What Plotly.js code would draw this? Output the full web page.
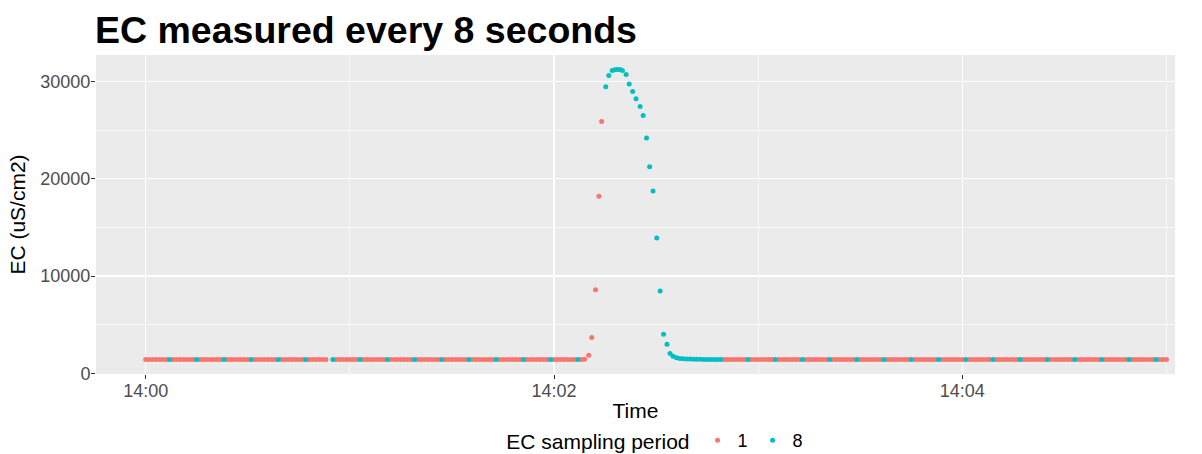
<!DOCTYPE html>
<html><head><meta charset="utf-8">
<script src="https://cdn.plot.ly/plotly-3.0.1.min.js"></script>
<style>html,body{margin:0;padding:0;background:#fff}</style>
</head><body><div id="chart" style="width:1202px;height:454px"></div>
<script>
// seconds after 14:00:00
const redSeconds = [
0,1,2,3,4,5,6, 8,9,10,11,12,13,14, 16,17,18,19,20,21,22, 24,25,26,27,28,29,30,
32,33,34,35,36,37,38, 40,41,42,43,44,45,46, 48,49,50,51,52,53, 56,57,58,59,60,61,62,
64,65,66,67,68,69,70, 72,73,74,75,76,77,78, 80,81,82,83,84,85,86, 88,89,90,91,92,93,94,
96,97,98,99,100,101,102, 104,105,106,107,108,109,110, 112,113,114,115,116,117,118,
120,121,122,123,124,125,126, 128,129,
130.2,131.1,132.2,133.2,134.0,
170,171,172,173,174,175,176, 178,179,180,181,182,183,184, 186,187,188,189,190,191,192,
194,195,196,197,198,199,200, 202,203,204,205,206,207,208, 210,211,212,213,214,215,216,
218,219,220,221,222,223,224, 226,227,228,229,230,231,232, 234,235,236,237,238,239,240,
242,243,244,245,246,247,248, 250,251,252,253,254,255,256, 258,259,260,261,262,263,264,
266,267,268,269,270,271,272, 274,275,276,277,278,279,280, 282,283,284,285,286,287,288,
290,291,292,293,294,295,296, 298,299,300
];
const redEC = [
1420,1420,1420,1420,1420,1420,1420, 1420,1420,1420,1420,1420,1420,1420, 1420,1420,1420,1420,1420,1420,1420, 1420,1420,1420,1420,1420,1420,1420,
1420,1420,1420,1420,1420,1420,1420, 1420,1420,1420,1420,1420,1420,1420, 1420,1420,1420,1420,1420,1420, 1420,1420,1420,1420,1420,1420,1420,
1420,1420,1420,1420,1420,1420,1420, 1420,1420,1420,1420,1420,1420,1420, 1420,1420,1420,1420,1420,1420,1420, 1420,1420,1420,1420,1420,1420,1420,
1420,1420,1420,1420,1420,1420,1420, 1420,1420,1420,1420,1420,1420,1420, 1420,1420,1420,1420,1420,1420,1420,
1420,1420,1420,1420,1420,1420,1420, 1420,1440,
1850,3670,8600,18190,25890,
1420,1420,1420,1420,1420,1420,1420, 1420,1420,1420,1420,1420,1420,1420, 1420,1420,1420,1420,1420,1420,1420,
1420,1420,1420,1420,1420,1420,1420, 1420,1420,1420,1420,1420,1420,1420, 1420,1420,1420,1420,1420,1420,1420,
1420,1420,1420,1420,1420,1420,1420, 1420,1420,1420,1420,1420,1420,1420, 1420,1420,1420,1420,1420,1420,1420,
1420,1420,1420,1420,1420,1420,1420, 1420,1420,1420,1420,1420,1420,1420, 1420,1420,1420,1420,1420,1420,1420,
1420,1420,1420,1420,1420,1420,1420, 1420,1420,1420,1420,1420,1420,1420, 1420,1420,1420,1420,1420,1420,1420,
1420,1420,1420,1420,1420,1420,1420, 1420,1420,1420
];
const cyanSeconds = [
7,15,23,31,39,47,55,63,71,79,87,95,103,111,119,127,
135.2,136.1,137.1,137.9,138.6,139.4,140.1,141.2,142.1,143.1,144.1,145.3,146.2,
147.2,148.1,149.1,150.2,151.2,152.2,153.2,154.1,
155,156,157,158,159,160,161,162,163,164,165,166,167,168,169,
177,185,193,201,209,217,225,233,241,249,257,265,273,281,289,297
];
const cyanEC = [
1420,1420,1420,1420,1420,1420,1420,1420,1420,1420,1420,1420,1420,1420,1420,1420,
29450,30620,31130,31200,31230,31230,31130,30720,29730,28970,28220,27430,26510,
24180,21230,18730,13900,8460,4010,2980,2050,
1750,1600,1530,1490,1470,1460,1450,1440,1440,1430,1430,1430,1420,1420,1420,
1420,1420,1420,1420,1420,1420,1420,1420,1420,1420,1420,1420,1420,1420,1420,1420
];
const seriesNames = ['1','8'];
const xTickSeconds = [0,120,240];
const xTickLabels = ['14:00','14:02','14:04'];
const xMinorSeconds = [60,180,300];
const yTickValues = [0,10000,20000,30000];
const yMinorValues = [5000,15000,25000];

function toStamp(s){
  const d = new Date(Date.UTC(2019,0,1,14,0,0) + Math.round(s*1000));
  return d.toISOString().replace('T',' ').replace('Z','');
}
const FONT = 'Liberation Sans, Arial, Helvetica, sans-serif';

const traces = [
  {x: redSeconds.map(toStamp), y: redEC, name: seriesNames[0], type:'scatter', mode:'markers',
   marker:{color:'#F8766D', size:5}},
  {x: cyanSeconds.map(toStamp), y: cyanEC, name: seriesNames[1], type:'scatter', mode:'markers',
   marker:{color:'#00BFC4', size:5}}
];
const layout = {
  width:1202, height:454,
  margin:{l:96, r:27, t:54.5, b:80.3},
  paper_bgcolor:'#ffffff', plot_bgcolor:'#EBEBEB',
  font:{family:FONT, color:'#000'},
  title:{text:'<b>EC measured every 8 seconds</b>', font:{size:37.5, family:FONT, color:'#000'},
         x:95/1202, xanchor:'left', xref:'container', y:1-30/454, yanchor:'middle', yref:'container'},
  xaxis:{type:'date', range:[toStamp(-14.6), toStamp(302.5)], automargin:false,
    tickmode:'array', tickvals:xTickSeconds.map(toStamp), ticktext:xTickLabels,
    ticks:'outside', ticklen:4, tickcolor:'#333', tickfont:{size:18, color:'#4d4d4d'}, ticklabelstandoff:-4,
    showgrid:true, gridcolor:'#ffffff', gridwidth:1.3, zeroline:false, showline:false,
    minor:{tickmode:'array', tickvals:xMinorSeconds.map(toStamp), showgrid:true, gridcolor:'#ffffff', gridwidth:0.6, ticks:''},
    title:{text:'Time', font:{size:21, color:'#000'}, standoff:6}},
  yaxis:{range:[-70, 32720], automargin:false, tickmode:'array', tickvals:yTickValues, ticktext:yTickValues.map(String),
    ticks:'outside', ticklen:4, tickcolor:'#333', tickfont:{size:18, color:'#4d4d4d'}, ticklabelstandoff:-3,
    showgrid:true, gridcolor:'#ffffff', gridwidth:1.3, zeroline:false, showline:false,
    minor:{tickmode:'array', tickvals:yMinorValues, showgrid:true, gridcolor:'#ffffff', gridwidth:0.6, ticks:''},
    title:{text:'EC (uS/cm2)', font:{size:21, color:'#000'}, standoff:8}},
  showlegend:true,
  legend:{orientation:'h', x:0.546, xanchor:'center', xref:'container', y:1-441/454, yanchor:'middle', yref:'container',
    title:{text:'EC sampling period', side:'left', font:{size:21, color:'#000'}},
    font:{size:18, color:'#000'}, itemwidth:30, bgcolor:'rgba(0,0,0,0)'}
};
Plotly.newPlot('chart', traces, layout, {staticPlot:true, displayModeBar:false});
</script></body></html>
